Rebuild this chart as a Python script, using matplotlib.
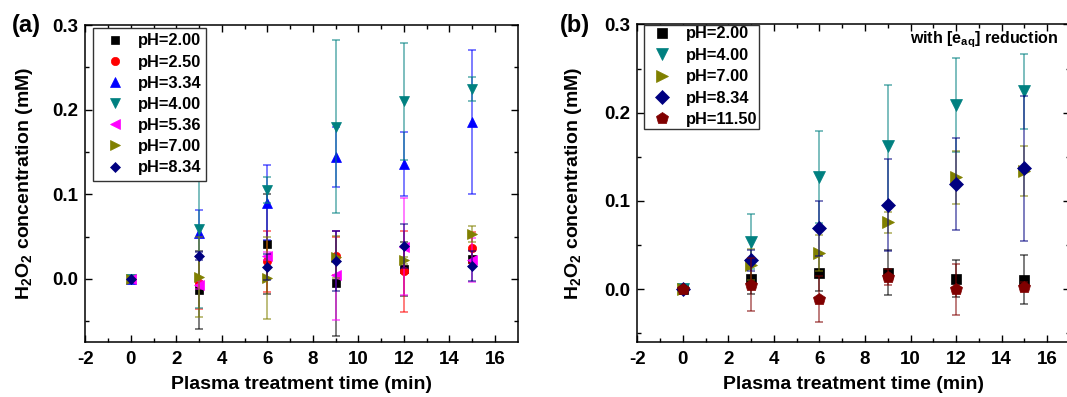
import numpy as np
import matplotlib
matplotlib.use("Agg")
import matplotlib.pyplot as plt

plt.rcParams.update({
    "font.family": ["Liberation Sans", "DejaVu Sans"],
    "font.weight": "bold",
    "axes.labelweight": "bold",
    "axes.unicode_minus": False,
    "mathtext.fontset": "custom",
    "mathtext.rm": "Liberation Sans:bold",
    "mathtext.it": "Liberation Sans:bold",
    "mathtext.bf": "Liberation Sans:bold",
    "mathtext.default": "rm",
})

# plasma treatment time (min)
times = [0, 3, 6, 9, 12, 15]

# panel (a): H2O2 concentration (mM) and error
labels_a = ["pH=2.00", "pH=2.50", "pH=3.34", "pH=4.00", "pH=5.36", "pH=7.00", "pH=8.34"]
ph200_a = [0, -0.013, 0.041, -0.005, 0.012, 0.024]
ph200_a_err = [0, 0.046, 0.059, 0.062, 0.032, 0.010]
ph250_a = [0, -0.005, 0.021, 0.027, 0.009, 0.037]
ph250_a_err = [0, 0.031, 0.036, 0.022, 0.048, 0.018]
ph334_a = [0, 0.054, 0.090, 0.144, 0.136, 0.185]
ph334_a_err = [0, 0.027, 0.044, 0.036, 0.038, 0.085]
ph400_a = [0, 0.059, 0.105, 0.180, 0.210, 0.224]
ph400_a_err = [0, 0.093, 0.015, 0.102, 0.069, 0.014]
ph536_a = [0, -0.007, 0.027, 0.004, 0.038, 0.022]
ph536_a_err = [0, 0.005, 0.005, 0.053, 0.057, 0.026]
ph700_a = [0, 0.002, 0.001, 0.026, 0.022, 0.053]
ph700_a_err = [0, 0.047, 0.048, 0.025, 0.004, 0.009]
ph834_a = [0, 0.027, 0.014, 0.021, 0.039, 0.015]
ph834_a_err = [0, 0.005, 0.015, 0.035, 0.026, 0.018]

# panel (b): with [e_aq] reduction
labels_b = ["pH=2.00", "pH=4.00", "pH=7.00", "pH=8.34", "pH=11.50"]
ph200_b = [0, 0.012, 0.019, 0.019, 0.012, 0.011]
ph200_b_err = [0.003, 0.017, 0.021, 0.025, 0.021, 0.028]
ph400_b = [0, 0.054, 0.127, 0.162, 0.209, 0.224]
ph400_b_err = [0, 0.031, 0.052, 0.069, 0.053, 0.042]
ph700_b = [0, 0.028, 0.041, 0.076, 0.127, 0.134]
ph700_b_err = [0, 0.018, 0.020, 0.012, 0.030, 0.028]
ph834_b = [0, 0.033, 0.069, 0.095, 0.119, 0.137]
ph834_b_err = [0, 0.012, 0.031, 0.052, 0.052, 0.082]
ph1150_b = [0, 0.005, -0.011, 0.014, 0.0, 0.003]
ph1150_b_err = [0, 0.030, 0.026, 0.009, 0.029, 0.005]

series_a = [
    (ph200_a, ph200_a_err, "black", "s", 5.5),
    (ph250_a, ph250_a_err, "#ff0000", "o", 6),
    (ph334_a, ph334_a_err, "#0000ff", "^", 7),
    (ph400_a, ph400_a_err, "#008080", "v", 7),
    (ph536_a, ph536_a_err, "#ff00ff", "<", 7),
    (ph700_a, ph700_a_err, "#808000", ">", 7),
    (ph834_a, ph834_a_err, "#000080", "D", 5.5),
]
series_b = [
    (ph200_b, ph200_b_err, "black", "s", 7),
    (ph400_b, ph400_b_err, "#008080", "v", 9),
    (ph700_b, ph700_b_err, "#808000", ">", 9),
    (ph834_b, ph834_b_err, "#000080", "D", 7),
    (ph1150_b, ph1150_b_err, "#800000", "p", 9),
]

fig = plt.figure(figsize=(10.67, 3.97), dpi=100)
ax_a = fig.add_axes([0.0799, 0.1378, 0.4052, 0.7992])
ax_b = fig.add_axes([0.5973, 0.1378, 0.4055, 0.8008])


def draw(ax, series, labels, ylim):
    for (y, err, c, m, ms), lab in zip(series, labels):
        ax.errorbar(times, y, yerr=err, fmt="none", ecolor=c, elinewidth=1.1,
                    capsize=2.6, capthick=1.1, alpha=0.65)
        ax.plot(times, y, linestyle="none", marker=m, color=c, markersize=ms,
                markeredgewidth=0.5, label=lab)
    ax.set_xlim(-2, 17)
    ax.set_ylim(*ylim)
    ax.set_xticks(np.arange(-2, 17, 2))
    ax.set_xticks(np.arange(-2, 17, 1), minor=True)
    ax.set_yticks([0.0, 0.1, 0.2, 0.3])
    ax.set_yticks([-0.05, 0.05, 0.15, 0.25], minor=True)
    ax.set_yticklabels(["0.0", "0.1", "0.2", "0.3"])
    ax.tick_params(which="both", direction="in", top=True, right=True,
                   labelsize=13.5, width=1)
    ax.tick_params(which="major", length=5)
    ax.tick_params(which="minor", length=3)
    ax.tick_params(axis="x", pad=6)
    ax.tick_params(axis="y", pad=5)
    for s in ax.spines.values():
        s.set_linewidth(1.1)
    ax.set_xlabel("Plasma treatment time (min)", fontsize=14)
    ax.xaxis.set_label_coords(0.5, -0.105)
    ax.set_ylabel("H$_2$O$_2$ concentration (mM)", fontsize=14)


draw(ax_a, series_a, labels_a, (-0.075, 0.3))
ax_a.yaxis.set_label_coords(-0.116, 0.5)
leg_a = ax_a.legend(loc="upper left", bbox_to_anchor=(0.018, 0.99), fontsize=11.8,
                    frameon=True, fancybox=False, edgecolor="#333333",
                    framealpha=1, borderaxespad=0, borderpad=0.32,
                    handlelength=2.0, handletextpad=0.4, labelspacing=0.375,
                    numpoints=1)
leg_a.get_frame().set_linewidth(1.0)

draw(ax_b, series_b, labels_b, (-0.06, 0.3))
ax_b.yaxis.set_label_coords(-0.123, 0.5)
leg_b = ax_b.legend(loc="upper left", bbox_to_anchor=(0.015, 0.999), fontsize=11.8,
                    frameon=True, fancybox=False, edgecolor="#333333",
                    framealpha=1, borderaxespad=0, borderpad=0.1,
                    handlelength=2.0, handletextpad=0.45, labelspacing=0.395,
                    numpoints=1)
leg_b.get_frame().set_linewidth(1.0)

ax_b.text(0.973, 0.941, "with [e$_{aq}$] reduction", transform=ax_b.transAxes,
          ha="right", va="baseline", fontsize=11.5)

fig.text(12 / 1067, 0.935, "(a)", fontsize=17, va="center", ha="left")
fig.text(560 / 1067, 0.935, "(b)", fontsize=17, va="center", ha="left")

fig.savefig("out.png", dpi=100)
